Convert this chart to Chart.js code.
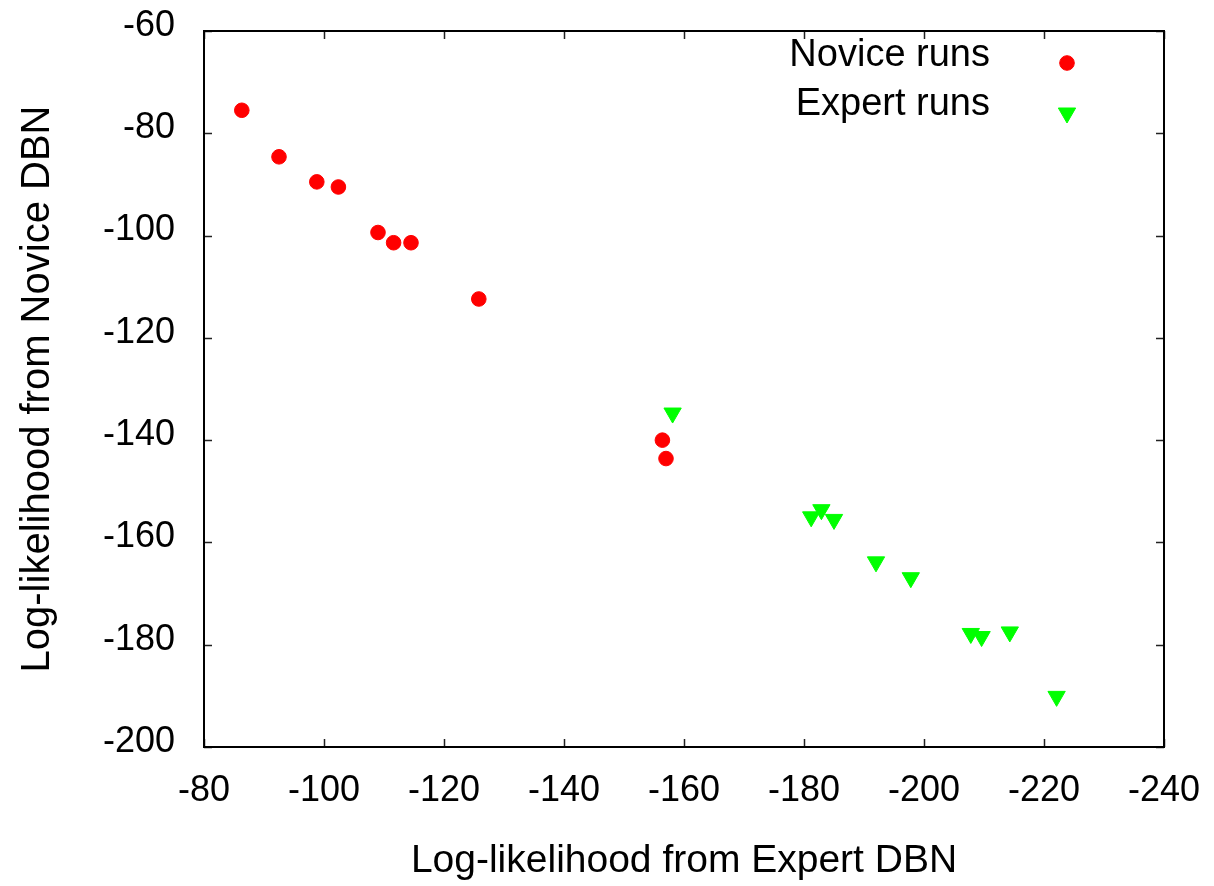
<!DOCTYPE html>
<html>
<head>
<meta charset="utf-8">
<script src="https://cdn.jsdelivr.net/npm/chart.js@4/dist/chart.umd.min.js"></script>
<style>
    html, body { margin: 0; padding: 0; background: #fff; }
    #wrap { width: 1214px; height: 886px; }
</style>
</head>
<body>
<div id="wrap"><canvas id="scatterChart" width="1214" height="886"></canvas></div>
<script>
const noviceLabel = "Novice runs";
const noviceX = [-86.3, -92.5, -98.8, -102.4, -109.0, -111.6, -114.5, -125.8, -156.4, -157.0];
const noviceY = [-75.5, -84.6, -89.5, -90.5, -99.4, -101.4, -101.4, -112.4, -140.0, -143.6];

const expertLabel = "Expert runs";
const expertX = [-158.1, -181.2, -182.9, -185.0, -192.0, -197.8, -207.8, -209.6, -214.3, -222.1];
const expertY = [-134.7, -155.0, -153.6, -155.5, -163.8, -166.9, -177.8, -178.4, -177.5, -190.1];

const xTitle = "Log-likelihood from Expert DBN";
const yTitle = "Log-likelihood from Novice DBN";

const FONT = "'Liberation Sans', Arial, Helvetica, sans-serif";

function toPoints(xs, ys) {
    return xs.map((x, i) => ({ x: x, y: ys[i] }));
}

// gnuplot style frame: full box with inward ticks on all four sides
const framePlugin = {
    id: "frame",
    afterDatasetsDraw(chart) {
        const { ctx, chartArea: a, scales } = chart;
        const len = 8;
        ctx.save();
        ctx.strokeStyle = "#222";
        ctx.lineWidth = 1.5;
        ctx.beginPath();
        scales.x.ticks.forEach(t => {
            const px = Math.round(scales.x.getPixelForValue(t.value)) + 0.5;
            ctx.moveTo(px, a.bottom); ctx.lineTo(px, a.bottom - len);
            ctx.moveTo(px, a.top); ctx.lineTo(px, a.top + len);
        });
        scales.y.ticks.forEach(t => {
            const py = Math.round(scales.y.getPixelForValue(t.value)) + 0.5;
            ctx.moveTo(a.left, py); ctx.lineTo(a.left + len, py);
            ctx.moveTo(a.right, py); ctx.lineTo(a.right - len, py);
        });
        ctx.stroke();
        ctx.strokeStyle = "#000";
        ctx.lineWidth = 2;
        ctx.strokeRect(a.left, a.top, a.right - a.left, a.bottom - a.top);
        ctx.restore();
    }
};

// legend in the top right corner: text right aligned, marker after it
const keyPlugin = {
    id: "key",
    afterDraw(chart) {
        const ctx = chart.ctx;
        const rows = [
            { y: 56, my: 63 },
            { y: 105, my: 113 }
        ];
        ctx.save();
        ctx.font = "38px " + FONT;
        ctx.textAlign = "right";
        ctx.textBaseline = "middle";
        chart.data.datasets.forEach((ds, i) => {
            const r = rows[i];
            ctx.fillStyle = "#000";
            ctx.fillText(ds.label, 990, r.y);
            ctx.fillStyle = ds.backgroundColor;
            ctx.strokeStyle = ds.borderColor;
            Chart.helpers.drawPoint(ctx, {
                pointStyle: ds.pointStyle,
                rotation: ds.rotation || 0,
                radius: ds.pointRadius,
                borderWidth: ds.borderWidth
            }, 1067, r.my);
        });
        ctx.restore();
    }
};

new Chart(document.getElementById("scatterChart"), {
    type: "scatter",
    data: {
        datasets: [
            {
                label: noviceLabel,
                data: toPoints(noviceX, noviceY),
                pointStyle: "circle",
                pointRadius: 7.3,
                borderWidth: 1,
                backgroundColor: "#ff0000",
                borderColor: "#ff0000"
            },
            {
                label: expertLabel,
                data: toPoints(expertX, expertY),
                pointStyle: "triangle",
                rotation: 180,
                pointRadius: 10,
                borderWidth: 1,
                backgroundColor: "#00ff00",
                borderColor: "#00ff00"
            }
        ]
    },
    options: {
        responsive: false,
        animation: false,
        devicePixelRatio: 1,
        layout: {
            padding: { left: 0, top: 31, right: 50, bottom: 0 }
        },
        plugins: {
            legend: { display: false },
            tooltip: { enabled: false }
        },
        scales: {
            x: {
                type: "linear",
                reverse: true,
                min: -240,
                max: -80,
                afterFit(scale) {
                    scale.height = 139;
                    scale.paddingLeft = 0;
                    scale.paddingRight = 0;
                },
                grid: { display: true, drawOnChartArea: false, drawTicks: false },
                border: { display: false },
                ticks: {
                    stepSize: 20,
                    padding: 22,
                    color: "#000",
                    font: { family: FONT, size: 36 }
                },
                title: {
                    display: true,
                    text: xTitle,
                    color: "#000",
                    font: { family: FONT, size: 39 },
                    padding: { top: 0, bottom: 1 }
                }
            },
            y: {
                type: "linear",
                min: -200,
                max: -60,
                afterFit(scale) {
                    scale.width = 204;
                    scale.paddingTop = 0;
                    scale.paddingBottom = 0;
                },
                grid: { display: true, drawOnChartArea: false, drawTicks: false },
                border: { display: false },
                ticks: {
                    stepSize: 20,
                    padding: 29,
                    labelOffset: -5,
                    color: "#000",
                    font: { family: FONT, size: 36 }
                },
                title: {
                    display: true,
                    text: yTitle,
                    color: "#000",
                    font: { family: FONT, size: 40 },
                    padding: { top: 14, bottom: 0 }
                }
            }
        }
    },
    plugins: [framePlugin, keyPlugin]
});
</script>
</body>
</html>
